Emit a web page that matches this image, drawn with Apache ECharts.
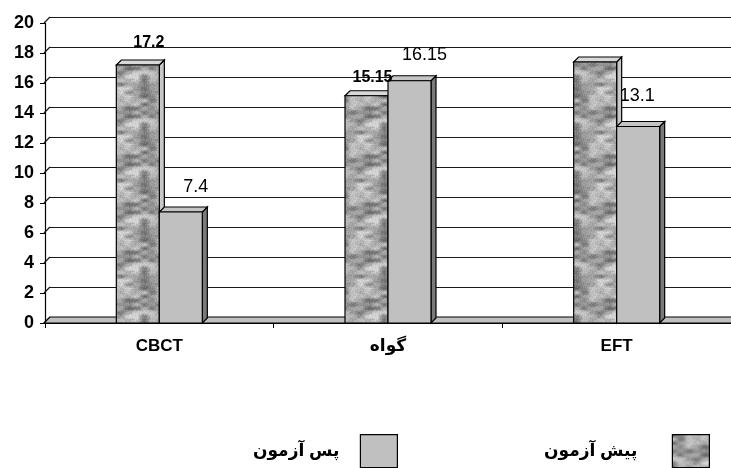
<!DOCTYPE html>
<html><head><meta charset="utf-8">
<script src="https://cdn.jsdelivr.net/npm/echarts@6/dist/echarts.min.js"></script>
<style>html,body{margin:0;padding:0;background:#fff}#c{width:731px;height:468px}</style>
</head><body><div id="c"></div>
<script>
const categories = ['CBCT', 'گواه', 'EFT'];
const preTest = [17.2, 15.15, 17.4];
const postTest = [7.4, 16.15, 13.1];
const preLabelShown = [true, true, false];
const yTicks = [0, 2, 4, 6, 8, 10, 12, 14, 16, 18, 20];
const seriesNames = ['پیش آزمون', 'پس آزمون'];

// label offsets (style only)
const preLabelShift = [[11, -22], [6, -18], [0, -20]];
const postLabelShift = [[15, -25], [15, -26], [-1, -30]];

const FONT = "'Liberation Sans', Arial, 'DejaVu Sans', sans-serif";
const BW = 43, D = 5;

function hash(a, b) { const x = Math.sin(a * 127.1 + b * 311.7) * 43758.5453; return x - Math.floor(x); }
function makeTexture() {
  const W = 48, H = 48, CX = 8, CY = 4;
  const nx = W / CX, ny = H / CY;
  const c = document.createElement('canvas'); c.width = W; c.height = H;
  const g = c.getContext('2d');
  const img = g.createImageData(W, H);
  const cell = (i, j) => hash(((i % nx) + nx) % nx, ((j % ny) + ny) % ny);
  for (let y = 0; y < H; y++) for (let x = 0; x < W; x++) {
    const fx = x / CX, fy = y / CY;
    const i = Math.floor(fx), j = Math.floor(fy);
    const tx = fx - i, ty = fy - j;
    const sx = tx * tx * (3 - 2 * tx), sy = ty * ty * (3 - 2 * ty);
    const a = cell(i, j), b = cell(i + 1, j), c2 = cell(i, j + 1), d = cell(i + 1, j + 1);
    let v = (a * (1 - sx) + b * sx) * (1 - sy) + (c2 * (1 - sx) + d * sx) * sy;
    v = v * 0.8 + hash(x + 11, y + 5) * 0.2;
    const gray = Math.round(90 + v * 140);
    const k = (y * W + x) * 4;
    img.data[k] = img.data[k + 1] = img.data[k + 2] = gray; img.data[k + 3] = 255;
  }
  g.putImageData(img, 0, 0);
  return c;
}
const tex = makeTexture();
const texFill = { image: tex, repeat: 'repeat' };

function box(x0, yTop, yBase, front, top, side) {
  const st = (fill) => ({ fill: fill, stroke: '#000', lineWidth: 1.2, lineJoin: 'miter' });
  return [
    { type: 'polygon', shape: { points: [[x0 + BW, yTop], [x0 + BW + D, yTop - D], [x0 + BW + D, yBase - D], [x0 + BW, yBase]] }, style: st(side) },
    { type: 'polygon', shape: { points: [[x0, yTop], [x0 + D, yTop - D], [x0 + BW + D, yTop - D], [x0 + BW, yTop]] }, style: st(top) },
    { type: 'rect', shape: { x: x0, y: yTop, width: BW, height: yBase - yTop }, style: st(front) }
  ];
}

function barSeries(name, vals, isPre, z) {
  return {
    type: 'custom', name: name, xAxisIndex: 0, yAxisIndex: 0, z: z,
    itemStyle: { color: isPre ? '#a0a0a0' : '#c0c0c0' },
    data: vals.map((v, i) => [i, v]),
    encode: { x: 0, y: 1 },
    renderItem: function (params, api) {
      const i = api.value(0), v = api.value(1);
      const p = api.coord([i, v]);
      const b = api.coord([i, 0]);
      const x0 = isPre ? p[0] - BW : p[0];
      const kids = isPre ? box(x0, p[1], b[1], texFill, '#d8d8d8', '#c8c8c8')
                         : box(x0, p[1], b[1], '#c0c0c0', '#c4c4c4', '#7a7a7a');
      return { type: 'group', children: kids };
    }
  };
}

function labelSeries(vals, isPre, z) {
  return {
    type: 'custom', xAxisIndex: 0, yAxisIndex: 0, z: z, silent: true,
    data: vals.map((v, i) => [i, v]),
    encode: { x: 0, y: 1 },
    tooltip: { show: false },
    renderItem: function (params, api) {
      const i = api.value(0), v = api.value(1);
      if (isPre && !preLabelShown[i]) return null;
      const p = api.coord([i, v]);
      const cx = isPre ? p[0] - BW / 2 : p[0] + BW / 2;
      const sh = isPre ? preLabelShift[i] : postLabelShift[i];
      return {
        type: 'text',
        style: {
          text: String(v), x: cx + sh[0], y: p[1] + sh[1],
          align: 'center', verticalAlign: 'middle',
          font: (isPre ? 'bold 16px ' : '18px ') + FONT, fill: '#000'
        }
      };
    }
  };
}

const chart = echarts.init(document.getElementById('c'), null, { renderer: 'canvas' });
chart.setOption({
  animation: false,
  grid: [
    { left: 45, width: 693, top: 23, bottom: 145 },
    { left: 50, width: 693, top: 17, bottom: 151 }
  ],
  xAxis: [
    {
      type: 'category', gridIndex: 0, data: categories,
      axisLine: { show: true, lineStyle: { color: '#000', width: 1.2 } },
      axisTick: { show: true, length: 5, lineStyle: { color: '#000' } },
      axisLabel: { margin: 15, color: '#000', fontWeight: 'bold', fontSize: 17, fontFamily: FONT }
    },
    { type: 'value', gridIndex: 1, min: 0, max: 1, show: false }
  ],
  yAxis: [
    {
      type: 'value', gridIndex: 0, min: 0, max: 20, interval: 2,
      axisLine: { show: true, lineStyle: { color: '#000', width: 1.2 } },
      axisTick: { show: true, length: 5, lineStyle: { color: '#000' } },
      axisLabel: { margin: 11, color: '#000', fontWeight: 'bold', fontSize: 18, fontFamily: FONT,
        formatter: (v) => yTicks.indexOf(v) >= 0 ? String(v) : '' },
      splitLine: { show: false }
    },
    {
      type: 'value', gridIndex: 1, min: 0, max: 20, interval: 2,
      axisLine: { show: false }, axisTick: { show: false }, axisLabel: { show: false },
      splitLine: { show: true, lineStyle: { color: '#1a1a1a', width: 1.2 } }
    }
  ],
  legend: [
    {
      data: [{ name: seriesNames[0], icon: 'rect', itemStyle: { color: texFill, borderColor: '#000', borderWidth: 1.2 } }],
      right: 16, top: 429, itemWidth: 37, itemHeight: 33, align: 'right',
      textStyle: { fontSize: 17, fontWeight: 'bold', color: '#000', fontFamily: FONT, padding: [0, 30, 0, 0] },
      selectedMode: false
    },
    {
      data: [{ name: seriesNames[1], icon: 'rect', itemStyle: { color: '#c0c0c0', borderColor: '#000', borderWidth: 1.2 } }],
      right: 328, top: 429, itemWidth: 37, itemHeight: 33, align: 'right',
      textStyle: { fontSize: 17, fontWeight: 'bold', color: '#000', fontFamily: FONT, padding: [0, 16, 0, 0] },
      selectedMode: false
    }
  ],
  series: [
    {
      // left wall diagonals at ticks + floor
      type: 'custom', xAxisIndex: 1, yAxisIndex: 1, z: 1, silent: true,
      data: yTicks.map(t => [0, t]), encode: { x: 0, y: 1 },
      renderItem: function (params, api) {
        const t = api.value(1);
        const p = api.coord([0, t]);
        const cs = params.coordSys;
        const kids = [{ type: 'line', shape: { x1: p[0] - 6, y1: p[1] + 6, x2: p[0], y2: p[1] },
          style: { stroke: '#1a1a1a', lineWidth: 1.2 } }];
        if (t === 0) {
          const xr = cs.x + cs.width + 40;
          kids.push({ type: 'polygon', z2: 5,
            shape: { points: [[cs.x - 6, p[1] + 6], [cs.x, p[1]], [xr, p[1]], [xr - 6, p[1] + 6]] },
            style: { fill: '#c0c0c0', stroke: '#000', lineWidth: 1.2 } });
        }
        return { type: 'group', children: kids };
      }
    },
    labelSeries(postTest, false, 2),
    barSeries(seriesNames[0], preTest, true, 3),
    barSeries(seriesNames[1], postTest, false, 4),
    labelSeries(preTest, true, 5)
  ]
});
</script></body></html>
